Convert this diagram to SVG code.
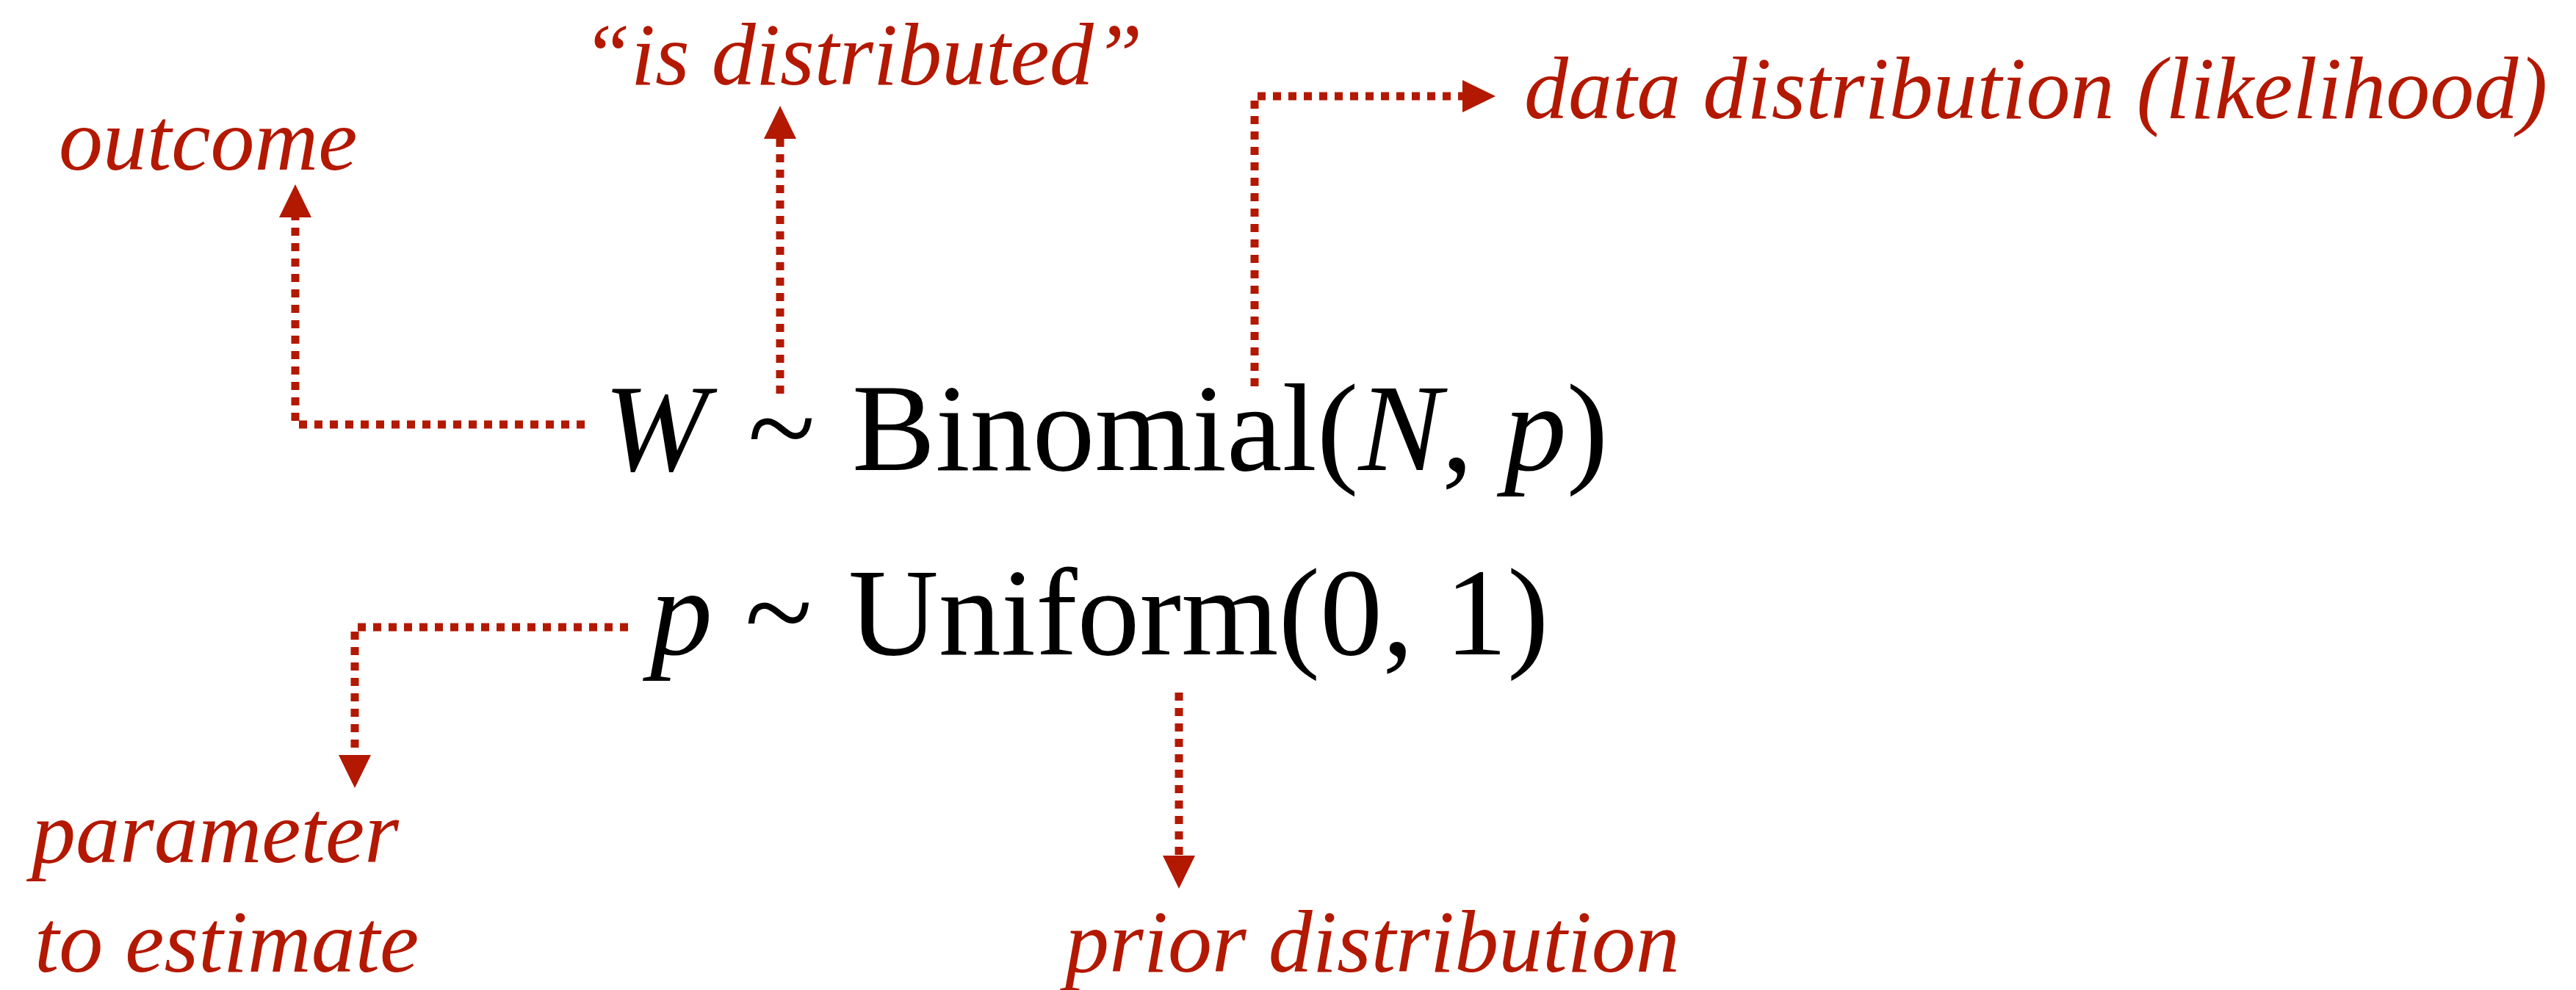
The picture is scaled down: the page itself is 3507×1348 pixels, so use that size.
<svg xmlns="http://www.w3.org/2000/svg" width="3507" height="1348" viewBox="0 0 3507 1348">
  <style>
    .math { font-family: "Liberation Serif", "Times New Roman", serif; font-size: 170px; fill: #000; }
    .it { font-style: italic; }
    .note { font-family: "Liberation Serif", "Times New Roman", serif; font-size: 120px; font-style: italic; fill: #B31800; }
    .link { fill: none; stroke: #B31800; stroke-width: 11; stroke-dasharray: 11 10; marker-end: url(#head); }
  </style>
  <defs>
    <marker id="head" viewBox="0 0 45 44" refX="0" refY="22" markerWidth="45" markerHeight="44" markerUnits="userSpaceOnUse" orient="auto">
      <path d="M0,0 L45,22 L0,44 Z" fill="#B31800"/>
    </marker>
  </defs>

  <rect width="3507" height="1348" fill="#fff"/>

  <!-- model equations -->
  <g id="likelihood-eq">
    <text class="math" y="640">
      <tspan x="822" class="it">W</tspan>
      <tspan x="1018">~</tspan>
      <tspan x="1160">Binomial(</tspan><tspan class="it">N</tspan><tspan>, </tspan><tspan class="it">p</tspan><tspan>)</tspan>
    </text>
  </g>
  <g id="prior-eq">
    <text class="math" y="891">
      <tspan x="885" class="it">p</tspan>
      <tspan x="1014">~</tspan>
      <tspan x="1155">Uniform(0, 1)</tspan>
    </text>
  </g>

  <!-- annotation labels -->
  <g id="label-outcome"><text class="note" x="80" y="231">outcome</text></g>
  <g id="label-distributed"><text class="note" x="792" y="115">“is distributed”</text></g>
  <g id="label-likelihood"><text class="note" x="2075" y="161">data distribution (likelihood)</text></g>
  <g id="label-parameter">
    <text class="note" x="43" y="1174">parameter</text>
    <text class="note" x="47" y="1323">to estimate</text>
  </g>
  <g id="label-prior"><text class="note" x="1450" y="1323">prior distribution</text></g>

  <!-- dotted leaders -->
  <g id="connectors">
    <path class="link" d="M796,578 H402 V296"/>
    <path class="link" d="M1062,536 V189"/>
    <path class="link" d="M1708,526 V131 H1991"/>
    <path class="link" d="M855,854 H483 V1028"/>
    <path class="link" d="M1605,943 V1165"/>
  </g>
</svg>
